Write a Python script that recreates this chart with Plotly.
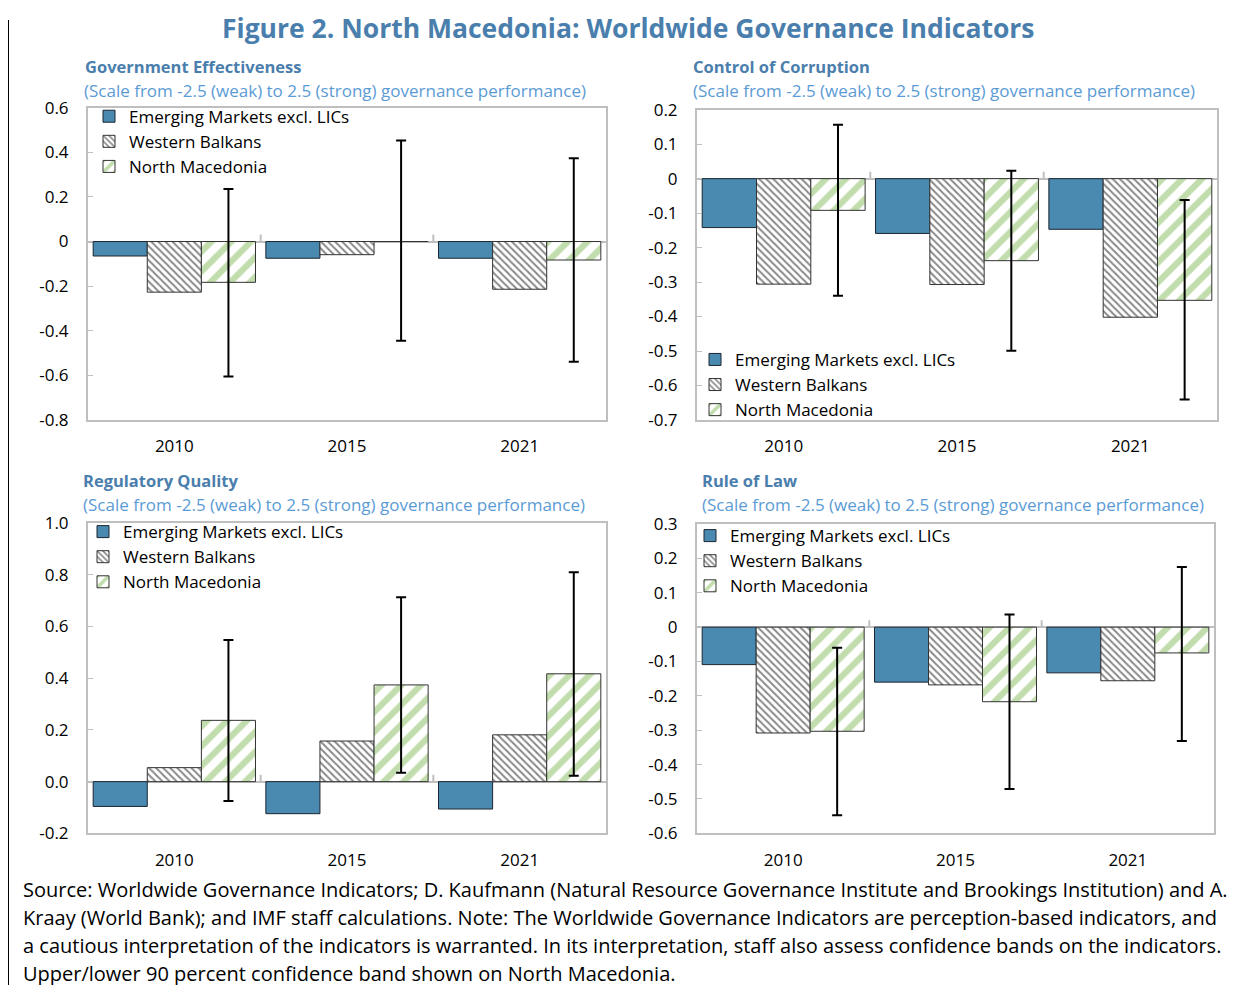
import plotly.graph_objects as go

# figure size and mapping from target picture pixels to paper coordinates
W, H = 1231, 995
X_OFF = 8          # horizontal page offset of the plot
Y_SCALE, Y_OFF = 0.976, 20.4   # vertical mapping observed for the rendered page


def px(x):
    return (x - X_OFF) / W


def py(y):
    return 1 - ((y - Y_OFF) / Y_SCALE) / H


categories = ["2010", "2015", "2021"]
series_names = ["Emerging Markets excl. LICs", "Western Balkans", "North Macedonia"]

# Government Effectiveness
ge_em = [-0.065, -0.075, -0.075]
ge_wb = [-0.227, -0.059, -0.214]
ge_nm = [-0.183, 0.0, -0.083]
ge_hi = [0.235, 0.453, 0.373]
ge_lo = [-0.605, -0.445, -0.539]

# Control of Corruption
cc_em = [-0.142, -0.159, -0.147]
cc_wb = [-0.306, -0.307, -0.402]
cc_nm = [-0.092, -0.238, -0.353]
cc_hi = [0.156, 0.023, -0.062]
cc_lo = [-0.340, -0.499, -0.641]

# Regulatory Quality
rq_em = [-0.096, -0.124, -0.106]
rq_wb = [0.054, 0.157, 0.181]
rq_nm = [0.237, 0.374, 0.417]
rq_hi = [0.548, 0.713, 0.810]
rq_lo = [-0.075, 0.034, 0.023]

# Rule of Law
rl_em = [-0.109, -0.160, -0.133]
rl_wb = [-0.308, -0.168, -0.156]
rl_nm = [-0.303, -0.217, -0.075]
rl_hi = [-0.060, 0.037, 0.175]
rl_lo = [-0.547, -0.471, -0.331]

titles = ["Government Effectiveness", "Control of Corruption", "Regulatory Quality", "Rule of Law"]
subtitle = "(Scale from -2.5 (weak) to 2.5 (strong) governance performance)"

ticks_ge = [0.6, 0.4, 0.2, 0, -0.2, -0.4, -0.6, -0.8]
ticks_ge_txt = ["0.6", "0.4", "0.2", "0", "-0.2", "-0.4", "-0.6", "-0.8"]
ticks_cc = [0.2, 0.1, 0, -0.1, -0.2, -0.3, -0.4, -0.5, -0.6, -0.7]
ticks_cc_txt = ["0.2", "0.1", "0", "-0.1", "-0.2", "-0.3", "-0.4", "-0.5", "-0.6", "-0.7"]
ticks_rq = [1.0, 0.8, 0.6, 0.4, 0.2, 0.0, -0.2]
ticks_rq_txt = ["1.0", "0.8", "0.6", "0.4", "0.2", "0.0", "-0.2"]
ticks_rl = [0.3, 0.2, 0.1, 0, -0.1, -0.2, -0.3, -0.4, -0.5, -0.6]
ticks_rl_txt = ["0.3", "0.2", "0.1", "0", "-0.1", "-0.2", "-0.3", "-0.4", "-0.5", "-0.6"]

FONT = "Open Sans"
TITLE_BLUE = "#4a7ead"
SUB_BLUE = "#5b9bd5"
EM_COLOR = "#4a89b0"
NM_GREEN = "#86bc5c"

boxes = [(88, 606, 108, 420), (697, 1217, 110, 420), (88, 606, 523, 833), (697, 1214, 524, 833)]
ranges = [(-0.8, 0.6), (-0.7, 0.2), (-0.2, 1.0), (-0.6, 0.3)]
tickinfo = [(ticks_ge, ticks_ge_txt), (ticks_cc, ticks_cc_txt), (ticks_rq, ticks_rq_txt), (ticks_rl, ticks_rl_txt)]
data = [
    (ge_em, ge_wb, ge_nm, ge_hi, ge_lo),
    (cc_em, cc_wb, cc_nm, cc_hi, cc_lo),
    (rq_em, rq_wb, rq_nm, rq_hi, rq_lo),
    (rl_em, rl_wb, rl_nm, rl_hi, rl_lo),
]
legend_pos = [(89, 99), (695, 342), (83, 514), (690, 518)]
title_pos = [(83, 67), (691, 67), (81, 480), (700, 480)]
sub_pos = [(82, 91), (691, 91), (81, 504), (700, 504)]

fig = go.Figure()
annotations = []
shapes = []

for i in range(4):
    ax = "" if i == 0 else str(i + 1)
    xref = "x" + ax
    yref = "y" + ax
    lg = "legend" if i == 0 else "legend" + str(i + 1)
    em, wb, nm, hi, lo = data[i]
    fig.add_trace(go.Bar(
        x=categories, y=em, name=series_names[0], xaxis=xref, yaxis=yref, legend=lg,
        marker=dict(color=EM_COLOR, line=dict(color="#1c2630", width=1)),
    ))
    fig.add_trace(go.Bar(
        x=categories, y=wb, name=series_names[1], xaxis=xref, yaxis=yref, legend=lg,
        marker=dict(color="white", line=dict(color="#333333", width=1),
                    pattern=dict(shape="\\", fgcolor="#111111", bgcolor="white", size=5, solidity=0.4)),
    ))
    fig.add_trace(go.Bar(
        x=categories, y=nm, name=series_names[2], xaxis=xref, yaxis=yref, legend=lg,
        marker=dict(color="white", line=dict(color="#333333", width=1),
                    pattern=dict(shape="/", fgcolor=NM_GREEN, bgcolor="white", size=14, solidity=0.45)),
        error_y=dict(type="data", symmetric=False,
                     array=[h - v for h, v in zip(hi, nm)],
                     arrayminus=[v - l for v, l in zip(nm, lo)],
                     color="black", thickness=2, width=5),
    ))
    l, r, t, b = boxes[i]
    tv, tt = tickinfo[i]
    fig.update_layout(**{
        "xaxis" + ax: dict(domain=[px(l), px(r)], anchor=yref, showline=True, mirror=True, linecolor="#bfbfbf",
                           linewidth=2, ticks="", showgrid=False, tickfont=dict(size=17, color="black", family=FONT),
                           ticklabelstandoff=10, fixedrange=True),
        "yaxis" + ax: dict(domain=[py(b), py(t)], anchor=xref, range=list(ranges[i]), tickvals=tv, ticktext=tt,
                           showline=True, mirror=True, linecolor="#bfbfbf", linewidth=2, showgrid=False,
                           zeroline=True, zerolinecolor="#bfbfbf", zerolinewidth=2,
                           ticks="inside", ticklen=5, tickcolor="#bfbfbf",
                           tickfont=dict(size=17, color="black", family=FONT), ticklabelstandoff=14),
        lg: dict(x=px(legend_pos[i][0]), y=py(legend_pos[i][1]), xanchor="left", yanchor="top",
                 bgcolor="rgba(0,0,0,0)", font=dict(size=17, color="black", family=FONT),
                 tracegroupgap=0, itemwidth=30, traceorder="normal"),
    })
    for xb in (0.5, 1.5):
        shapes.append(dict(type="line", xref=xref, yref=yref, x0=xb, x1=xb,
                           ysizemode="pixel", yanchor=0, y0=0, y1=7,
                           line=dict(color="#bfbfbf", width=2)))
    annotations.append(dict(text="<b>" + titles[i] + "</b>", x=px(title_pos[i][0]), y=py(title_pos[i][1]),
                            xref="paper", yref="paper", xanchor="left", yanchor="middle", showarrow=False,
                            font=dict(size=16.5, color=TITLE_BLUE, family=FONT)))
    annotations.append(dict(text=subtitle, x=px(sub_pos[i][0]), y=py(sub_pos[i][1]),
                            xref="paper", yref="paper", xanchor="left", yanchor="middle", showarrow=False,
                            font=dict(size=17, color=SUB_BLUE, family=FONT)))

annotations.append(dict(text="<b>Figure 2. North Macedonia: Worldwide Governance Indicators</b>",
                        x=px(628), y=py(28), xref="paper", yref="paper", xanchor="center", yanchor="middle",
                        showarrow=False, font=dict(size=26.5, color=TITLE_BLUE, family=FONT)))

footnote = [
    "Source: Worldwide Governance Indicators; D. Kaufmann (Natural Resource Governance Institute and Brookings Institution) and A.",
    "Kraay (World Bank); and IMF staff calculations. Note: The Worldwide Governance Indicators are perception-based indicators, and",
    "a cautious interpretation of the indicators is warranted. In its interpretation, staff also assess confidence bands on the indicators.",
    "Upper/lower 90 percent confidence band shown on North Macedonia.",
]
foot_y = [889, 917, 945, 973]
for line, yy in zip(footnote, foot_y):
    annotations.append(dict(text=line, x=px(21), y=py(yy), xref="paper", yref="paper",
                            xanchor="left", yanchor="middle", showarrow=False,
                            font=dict(size=20, color="black", family=FONT)))

# outer frame: left edge
shapes.append(dict(type="line", xref="paper", yref="paper", x0=px(8), x1=px(8), y0=0, y1=1,
                   line=dict(color="black", width=2)))

fig.update_layout(
    width=W, height=H, margin=dict(l=0, r=0, t=0, b=0),
    paper_bgcolor="white", plot_bgcolor="white",
    barmode="group", bargap=0.06, bargroupgap=0,
    font=dict(family=FONT, color="black"),
    annotations=annotations, shapes=shapes, showlegend=True,
)

fig.write_html("out.html")
